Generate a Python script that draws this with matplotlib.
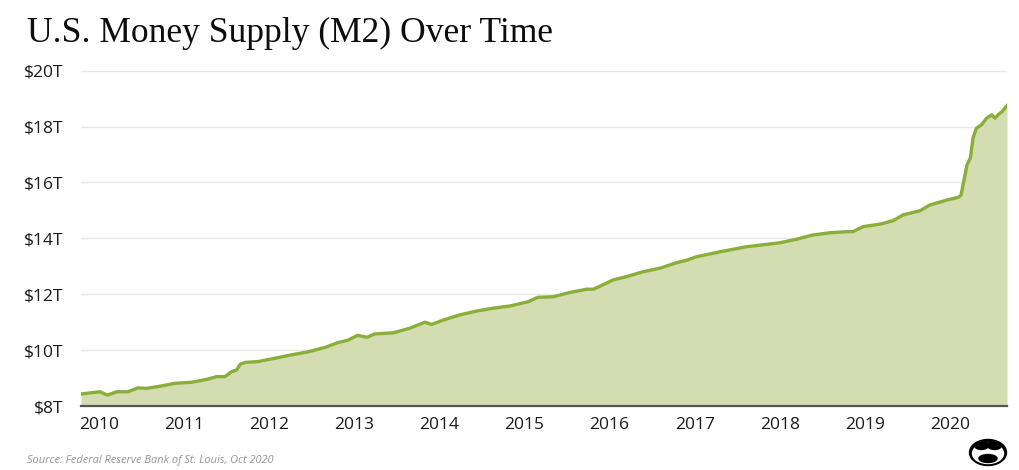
import matplotlib
matplotlib.use("Agg")
import matplotlib.pyplot as plt
from matplotlib.patches import Ellipse

# ---- data (decimal year, trillions USD) ----
years = [2009.79, 2010.01, 2010.10, 2010.21, 2010.34, 2010.46, 2010.56, 2010.74, 2010.89,
         2011.09, 2011.28, 2011.38, 2011.48, 2011.56, 2011.62, 2011.66, 2011.72, 2011.87,
         2012.07, 2012.26, 2012.46, 2012.66, 2012.81, 2012.93, 2013.04, 2013.15, 2013.24,
         2013.46, 2013.65, 2013.83, 2013.91, 2014.05, 2014.24, 2014.44, 2014.63, 2014.83,
         2015.04, 2015.16, 2015.34, 2015.53, 2015.73, 2015.81, 2015.89, 2016.04, 2016.20,
         2016.40, 2016.59, 2016.79, 2016.92, 2017.02, 2017.30, 2017.61, 2018.00, 2018.20,
         2018.39, 2018.59, 2018.79, 2018.86, 2018.98, 2019.18, 2019.33, 2019.45, 2019.65,
         2019.76, 2019.96, 2020.10, 2020.13, 2020.20, 2020.24, 2020.27, 2020.31, 2020.37,
         2020.43, 2020.49, 2020.53, 2020.57, 2020.61, 2020.67]
m2 = [8.43, 8.51, 8.39, 8.51, 8.51, 8.65, 8.63, 8.72, 8.81,
      8.85, 8.96, 9.05, 9.05, 9.23, 9.29, 9.49, 9.56, 9.59,
      9.71, 9.83, 9.94, 10.10, 10.27, 10.36, 10.53, 10.46, 10.58,
      10.62, 10.78, 11.00, 10.92, 11.08, 11.26, 11.40, 11.50, 11.58,
      11.73, 11.89, 11.91, 12.06, 12.18, 12.18, 12.29, 12.51, 12.63,
      12.81, 12.93, 13.13, 13.23, 13.34, 13.52, 13.70, 13.84, 13.97,
      14.12, 14.20, 14.24, 14.24, 14.42, 14.51, 14.63, 14.84, 14.99,
      15.19, 15.37, 15.47, 15.55, 16.63, 16.88, 17.58, 17.94, 18.06,
      18.30, 18.42, 18.30, 18.44, 18.53, 18.75]

x_ticks = [2010, 2011, 2012, 2013, 2014, 2015, 2016, 2017, 2018, 2019, 2020]
x_labels = [str(y) for y in x_ticks]
y_ticks = [8, 10, 12, 14, 16, 18, 20]
y_labels = ["$%dT" % v for v in y_ticks]

title = "U.S. Money Supply (M2) Over Time"
source = "Source: Federal Reserve Bank of St. Louis, Oct 2020"

LINE = "#8aae38"
FILL = "#d3ddb1"
GRID = "#e8e8e8"
TXT = "#1a1a1a"

W, H = 1020, 470
fig = plt.figure(figsize=(W / 100, H / 100), dpi=100)
fig.patch.set_facecolor("white")

ax = fig.add_axes([81 / W, 1 - 406 / H, 926 / W, (406 - 70.7) / H])
ax.fill_between(years, 8, m2, color=FILL, lw=0, zorder=2)
ax.plot(years, m2, color=LINE, lw=2.4, solid_joinstyle="round", zorder=3)

ax.set_xlim(years[0], years[-1])
ax.set_ylim(8, 20)
ax.set_xticks(x_ticks)
ax.set_xticklabels(x_labels)
ax.set_yticks(y_ticks)
ax.set_yticklabels(y_labels)
ax.tick_params(axis="both", length=0, labelsize=12.5, labelcolor=TXT)
ax.tick_params(axis="y", pad=13)
ax.tick_params(axis="x", pad=8)
for lab in ax.get_xticklabels() + ax.get_yticklabels():
    lab.set_fontfamily(["Open Sans", "DejaVu Sans"])

ax.grid(axis="y", color=GRID, lw=1, zorder=1)
ax.grid(axis="x", visible=False)
for s in ["top", "right", "left"]:
    ax.spines[s].set_visible(False)
ax.spines["bottom"].set_color("#555555")
ax.spines["bottom"].set_linewidth(1.6)
ax.spines["bottom"].set_zorder(4)

fig.text(27 / W, 1 - 42 / H, title, fontsize=25.6, family=["Liberation Serif", "DejaVu Serif"],
         color="#0d0d0d", ha="left", va="baseline")
fig.text(27 / W, 1 - 463 / H, source, fontsize=7.9, style="italic",
         family=["Open Sans", "DejaVu Sans"], color="#959595", ha="left", va="baseline")

# simple logo mark bottom right
lax = fig.add_axes([968 / W, 1 - 467 / H, 40 / W, 29 / H])
lax.set_xlim(0, 40)
lax.set_ylim(0, 29)
lax.axis("off")
lax.add_patch(Ellipse((20, 14.5), 37, 26, color="black"))
lax.add_patch(Ellipse((20, 13.5), 31, 20, color="white"))
lax.add_patch(Ellipse((13.5, 21.5), 14, 8, color="black"))
lax.add_patch(Ellipse((26.5, 21.5), 14, 8, color="black"))
lax.add_patch(Ellipse((20, 8.5), 18, 8, color="black"))

fig.savefig("out.png", dpi=100, facecolor="white")
